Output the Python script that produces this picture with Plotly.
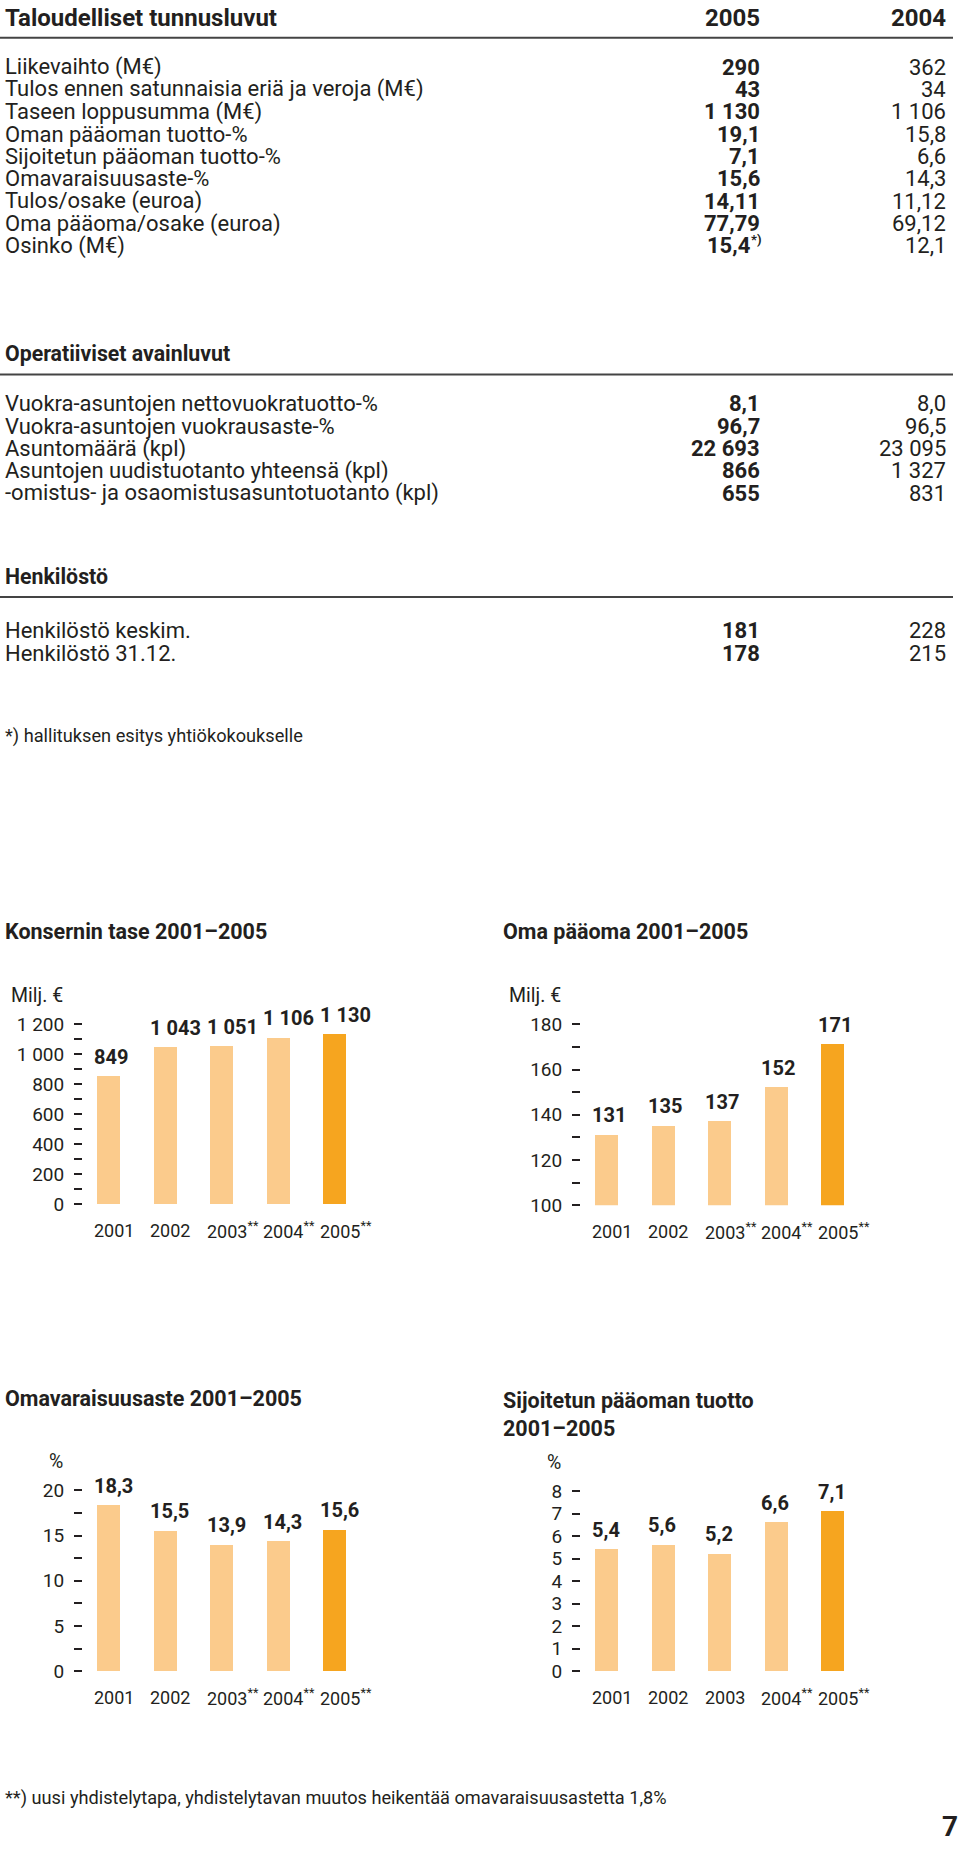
import plotly.graph_objects as go

# ---- table data ----
head_title = "Taloudelliset tunnusluvut"
head_years = ["2005", "2004"]

fin_labels = ["Liikevaihto (M€)", "Tulos ennen satunnaisia eriä ja veroja (M€)", "Taseen loppusumma (M€)",
              "Oman pääoman tuotto-%", "Sijoitetun pääoman tuotto-%", "Omavaraisuusaste-%",
              "Tulos/osake (euroa)", "Oma pääoma/osake (euroa)", "Osinko (M€)"]
fin_2005 = ["290", "43", "1 130", "19,1", "7,1", "15,6", "14,11", "77,79", "15,4*)"]
fin_2004 = ["362", "34", "1 106", "15,8", "6,6", "14,3", "11,12", "69,12", "12,1"]

op_title = "Operatiiviset avainluvut"
op_labels = ["Vuokra-asuntojen nettovuokratuotto-%", "Vuokra-asuntojen vuokrausaste-%", "Asuntomäärä (kpl)",
             "Asuntojen uudistuotanto yhteensä (kpl)", "-omistus- ja osaomistusasuntotuotanto (kpl)"]
op_2005 = ["8,1", "96,7", "22 693", "866", "655"]
op_2004 = ["8,0", "96,5", "23 095", "1 327", "831"]

hr_title = "Henkilöstö"
hr_labels = ["Henkilöstö keskim.", "Henkilöstö 31.12."]
hr_2005 = ["181", "178"]
hr_2004 = ["228", "215"]

note1 = "*) hallituksen esitys yhtiökokoukselle"
note2 = "**) uusi yhdistelytapa, yhdistelytavan muutos heikentää omavaraisuusastetta 1,8%"
page_no = "7"

# ---- chart data ----
years = ["2001", "2002", "2003", "2004", "2005"]
labels_a = ["2001", "2002", "2003<sup>**</sup>", "2004<sup>**</sup>", "2005<sup>**</sup>"]
labels_b = ["2001", "2002", "2003", "2004<sup>**</sup>", "2005<sup>**</sup>"]

tase = [849, 1043, 1051, 1106, 1130]
oma_paaoma = [131, 135, 137, 152, 171]
omavaraisuus = [18.3, 15.5, 13.9, 14.3, 15.6]
sijoitetun = [5.4, 5.6, 5.2, 6.6, 7.1]

W, H = 960, 1854
INK = "#231f20"
LIGHT = "#fbcb8c"
DARK = "#f6a51f"
FONT = "Roboto"
PAD = 2  # plotly annotation box padding (borderpad + borderwidth)


def px(x):
    return x / W


def py(y):
    return 1 - y / H


annotations = []
shapes = []


def text(x, y, s, size=22, bold=False, anchor="left", color=INK, yanchor="middle"):
    if bold:
        s = "<b>" + s + "</b>"
    if anchor == "left":
        x -= PAD
    elif anchor == "right":
        x += PAD
    annotations.append(dict(x=px(x), y=py(y), xref="paper", yref="paper", text=s, showarrow=False,
                            xanchor=anchor, yanchor=yanchor, align="left",
                            font=dict(family=FONT, size=size, color=color)))


def rule(y):
    shapes.append(dict(type="line", xref="paper", yref="paper", x0=0, x1=px(953), y0=py(y), y1=py(y),
                       line=dict(color="#444444", width=2)))


# ---- table ----
text(5, 18, head_title, size=24, bold=True)
text(760, 18, head_years[0], size=24, bold=True, anchor="right")
text(946, 18, head_years[1], size=24, bold=True, anchor="right")
rule(38)

step = 22.5


def rows(y0, labs, v5, v4):
    for i, (l, a, b) in enumerate(zip(labs, v5, v4)):
        y = y0 + i * step
        text(5, y, l)
        if a.endswith("*)"):
            # small raised footnote mark after the value
            text(751, y, a[:-2], bold=True, anchor="right")
            text(751, y - 6, "*)", size=13, bold=True)
        else:
            text(760, y, a, bold=True, anchor="right")
        text(946, y, b, anchor="right")


rows(67.5, fin_labels, fin_2005, fin_2004)
text(5, 356, op_title, size=21.3, bold=True)
rule(377)
rows(406.5, op_labels, op_2005, op_2004)
text(5, 580, hr_title, size=21.3, bold=True)
rule(601)
rows(635, hr_labels, hr_2005, hr_2004)
text(5, 741, note1, size=18.2)

# ---- charts ----
SLOT = 56.5
charts = [
    dict(title="Konsernin tase 2001–2005", vals=tase, labs=labels_a, tx=5, ty=938, x0=83,
         yb=1212, yt=1031, base=0, top=1200, ticks=list(range(0, 1201, 200)),
         minor=list(range(100, 1200, 200)), unit="Milj. €", uy=1002, fmt=lambda v: f"{v:,}".replace(",", " ")),
    dict(title="Oma pääoma 2001–2005", vals=oma_paaoma, labs=labels_a, tx=503, ty=938, x0=581,
         yb=1213, yt=1031, base=100, top=180, ticks=list(range(100, 181, 20)),
         minor=list(range(110, 180, 20)), unit="Milj. €", uy=1002, fmt=lambda v: str(v)),
    dict(title="Omavaraisuusaste 2001–2005", vals=omavaraisuus, labs=labels_a, tx=5, ty=1408, x0=83,
         yb=1682, yt=1500, base=0, top=20, ticks=[0, 5, 10, 15, 20],
         minor=[2.5, 7.5, 12.5, 17.5], unit="%", uy=1471, fmt=lambda v: f"{v:.1f}".replace(".", ",")),
    dict(title="Sijoitetun pääoman tuotto<br>2001–2005", vals=sijoitetun, labs=labels_b, tx=503, ty=1421, x0=581,
         yb=1682, yt=1501, base=0, top=8, ticks=list(range(0, 9)),
         minor=[], unit="%", uy=1472, fmt=lambda v: f"{v:.1f}".replace(".", ",")),
]

fig = go.Figure()
layout_axes = {}
for i, c in enumerate(charts, start=1):
    xa = "x" if i == 1 else f"x{i}"
    ya = "y" if i == 1 else f"y{i}"
    scale = (c["yb"] - c["yt"]) / (c["top"] - c["base"])
    dom_top = c["uy"] + 12
    rng_top = c["base"] + (c["yb"] - dom_top) / scale
    fig.add_trace(go.Bar(x=years, y=c["vals"], xaxis=xa, yaxis=ya, width=23 / SLOT,
                         marker=dict(color=[LIGHT] * 4 + [DARK], line=dict(width=0)),
                         hoverinfo="skip"))
    layout_axes["xaxis" if i == 1 else f"xaxis{i}"] = dict(
        domain=[px(c["x0"]), px(c["x0"] + 5 * SLOT)], range=[-0.46, 4.54], type="category",
        showticklabels=False, ticks="", showgrid=False, zeroline=False, showline=False,
        anchor=ya, fixedrange=True)
    layout_axes["yaxis" if i == 1 else f"yaxis{i}"] = dict(
        domain=[py(c["yb"]), py(dom_top)], range=[c["base"], rng_top], anchor=xa,
        tickmode="array", tickvals=c["ticks"], tickformat=",d",
        ticks="outside", ticklen=8, tickwidth=1.5, tickcolor=INK, ticklabelstandoff=6,
        minor=dict(tickmode="array", tickvals=c["minor"], ticks="outside", ticklen=8,
                   tickwidth=1.5, tickcolor=INK),
        tickfont=dict(family=FONT, size=19, color=INK),
        showgrid=False, zeroline=False, showline=False, fixedrange=True)
    # chart title
    if "<br>" in c["title"]:
        text(c["tx"], c["ty"] - 26, c["title"], size=21.5, bold=True, yanchor="top")
    else:
        text(c["tx"], c["ty"], c["title"], size=21.5, bold=True)
    # unit label
    text(c["x0"] - 20, c["uy"], c["unit"], size=19.5, anchor="right")
    # value labels and year labels, left-aligned to bars (x given as category index)
    for j, (v, lab) in enumerate(zip(c["vals"], c["labs"])):
        annotations.append(dict(x=j, y=v, xref=xa, yref=ya, text="<b>" + c["fmt"](v) + "</b>",
                                showarrow=False, xanchor="left", yanchor="middle", xshift=-17, yshift=20,
                                font=dict(family=FONT, size=20, color=INK)))
        annotations.append(dict(x=j, y=c["base"], xref=xa, yref=ya, text=lab, showarrow=False,
                                xanchor="left", yanchor="middle", xshift=-17, yshift=-26,
                                font=dict(family=FONT, size=18, color=INK)))

text(5, 1810, note2, size=18.2)
text(958, 1838, page_no, size=28, bold=True, anchor="right")

fig.update_layout(
    width=W, height=H,
    margin=dict(l=0, r=0, t=0, b=0),
    paper_bgcolor="white", plot_bgcolor="white",
    showlegend=False, bargap=0,
    separators=", ",
    font=dict(family=FONT, color=INK),
    annotations=annotations, shapes=shapes,
    **layout_axes,
)

# page body margin would push the 960x1854 figure off the window
fig.write_html("out.html", config={"displayModeBar": False},
               post_script="document.body.style.margin='0';document.body.style.overflow='hidden';")
